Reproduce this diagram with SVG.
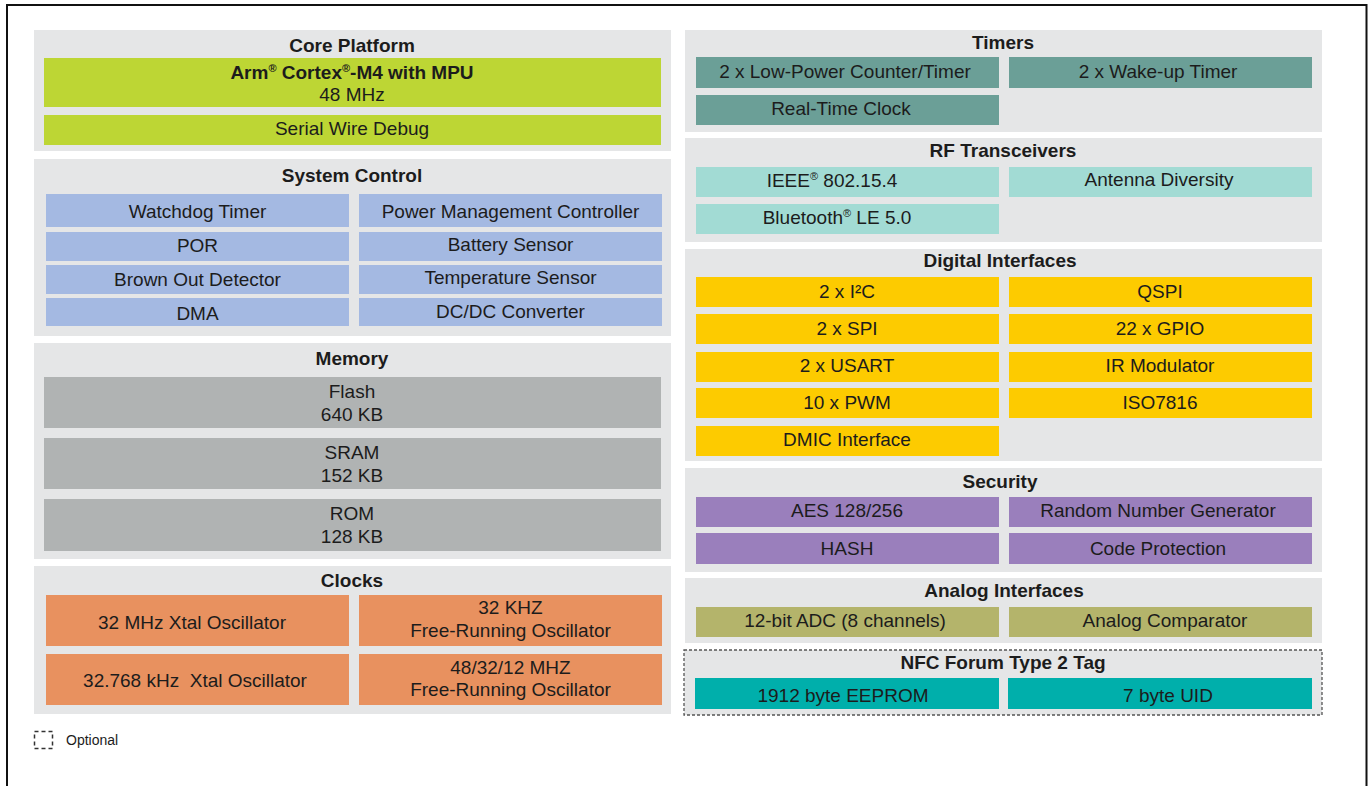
<svg xmlns="http://www.w3.org/2000/svg" width="1368" height="786" viewBox="0 0 1368 786">
<style>
text{font-family:"Liberation Sans",Arial,sans-serif;fill:#1c1c1c;text-anchor:middle;font-size:19px}
.t{font-weight:bold}
.p{fill:#e5e6e7}
.lime{fill:#bdd634}
.blue{fill:#a4b9e2}
.gray{fill:#b0b3b3}
.org{fill:#e8915f}
.tmr{fill:#6b9f97}
.rf{fill:#a2dbd4}
.yel{fill:#fdcb00}
.pur{fill:#9a7fbc}
.olv{fill:#b4b46b}
.nfc{fill:#00afab}
.sup{font-size:11px}
</style>
<rect x="0" y="0" width="1368" height="786" fill="#ffffff"/>
<path d="M7,786 V5 H1366.5 V786" fill="none" stroke="#111" stroke-width="2"/>

<g id="core-platform">
<rect class="p" x="34" y="30" width="637" height="121"/>
<text class="t" x="352" y="51.5">Core Platform</text>
<rect class="lime" x="44" y="58" width="617" height="49"/>
<text class="t" x="352" y="79">Arm<tspan class="sup" dy="-7">®</tspan><tspan dy="7"> Cortex</tspan><tspan class="sup" dy="-7">®</tspan><tspan dy="7">-M4 with MPU</tspan></text>
<text x="352" y="100.5">48 MHz</text>
<rect class="lime" x="44" y="115" width="617" height="30"/>
<text x="352" y="134.5">Serial Wire Debug</text>
</g>

<g id="system-control">
<rect class="p" x="34" y="159" width="637" height="177"/>
<text class="t" x="352" y="182">System Control</text>
<rect class="blue" x="46" y="194" width="303" height="33"/>
<rect class="blue" x="359" y="194" width="303" height="33"/>
<rect class="blue" x="46" y="232" width="303" height="29"/>
<rect class="blue" x="359" y="232" width="303" height="29"/>
<rect class="blue" x="46" y="265" width="303" height="29"/>
<rect class="blue" x="359" y="265" width="303" height="29"/>
<rect class="blue" x="46" y="298" width="303" height="28"/>
<rect class="blue" x="359" y="298" width="303" height="28"/>
<text x="197.5" y="218">Watchdog Timer</text>
<text x="510.5" y="218">Power Management Controller</text>
<text x="197.5" y="251.5">POR</text>
<text x="510.5" y="251">Battery Sensor</text>
<text x="197.5" y="286">Brown Out Detector</text>
<text x="510.5" y="284">Temperature Sensor</text>
<text x="197.5" y="320">DMA</text>
<text x="510.5" y="317.5">DC/DC Converter</text>
</g>

<g id="memory">
<rect class="p" x="34" y="343" width="637" height="216"/>
<text class="t" x="352" y="365">Memory</text>
<rect class="gray" x="44" y="377" width="617" height="51"/>
<rect class="gray" x="44" y="438" width="617" height="51"/>
<rect class="gray" x="44" y="499" width="617" height="52"/>
<text x="352" y="397.5">Flash</text>
<text x="352" y="420.5">640 KB</text>
<text x="352" y="459">SRAM</text>
<text x="352" y="481.5">152 KB</text>
<text x="352" y="520">ROM</text>
<text x="352" y="542.5">128 KB</text>
</g>

<g id="clocks">
<rect class="p" x="34" y="566" width="637" height="148"/>
<text class="t" x="352" y="586.5">Clocks</text>
<rect class="org" x="46" y="595" width="303" height="51"/>
<rect class="org" x="359" y="595" width="303" height="51"/>
<rect class="org" x="46" y="654" width="303" height="51"/>
<rect class="org" x="359" y="654" width="303" height="51"/>
<text x="192" y="629">32 MHz Xtal Oscillator</text>
<text x="510.5" y="614">32 KHZ</text>
<text x="510.5" y="636.5">Free-Running Oscillator</text>
<text x="195" y="686.5" xml:space="preserve">32.768 kHz  Xtal Oscillator</text>
<text x="510.5" y="673.5">48/32/12 MHZ</text>
<text x="510.5" y="696">Free-Running Oscillator</text>
</g>

<g id="timers">
<rect class="p" x="685" y="30" width="637" height="102"/>
<text class="t" x="1003" y="48.5">Timers</text>
<rect class="tmr" x="696" y="57" width="303" height="31"/>
<rect class="tmr" x="1009" y="57" width="303" height="31"/>
<rect class="tmr" x="696" y="95" width="303" height="30"/>
<text x="845" y="77.5">2 x Low-Power Counter/Timer</text>
<text x="1158" y="77.5">2 x Wake-up Timer</text>
<text x="841" y="115">Real-Time Clock</text>
</g>

<g id="rf-transceivers">
<rect class="p" x="685" y="138" width="637" height="104"/>
<text class="t" x="1003" y="156.5">RF Transceivers</text>
<rect class="rf" x="696" y="167" width="303" height="30"/>
<rect class="rf" x="1009" y="167" width="303" height="30"/>
<rect class="rf" x="696" y="204" width="303" height="30"/>
<text x="832" y="187">IEEE<tspan class="sup" dy="-7">®</tspan><tspan dy="7"> 802.15.4</tspan></text>
<text x="1159" y="185.5">Antenna Diversity</text>
<text x="837" y="224">Bluetooth<tspan class="sup" dy="-7">®</tspan><tspan dy="7"> LE 5.0</tspan></text>
</g>

<g id="digital-interfaces">
<rect class="p" x="685" y="249" width="637" height="212"/>
<text class="t" x="1000" y="267">Digital Interfaces</text>
<rect class="yel" x="696" y="277" width="303" height="30"/>
<rect class="yel" x="1009" y="277" width="303" height="30"/>
<rect class="yel" x="696" y="314" width="303" height="30"/>
<rect class="yel" x="1009" y="314" width="303" height="30"/>
<rect class="yel" x="696" y="352" width="303" height="30"/>
<rect class="yel" x="1009" y="352" width="303" height="30"/>
<rect class="yel" x="696" y="388" width="303" height="30"/>
<rect class="yel" x="1009" y="388" width="303" height="30"/>
<rect class="yel" x="696" y="426" width="303" height="30"/>
<text x="847" y="297.5">2 x I²C</text>
<text x="1160" y="297.5">QSPI</text>
<text x="847" y="335">2 x SPI</text>
<text x="1160" y="335">22 x GPIO</text>
<text x="847" y="372">2 x USART</text>
<text x="1160" y="372">IR Modulator</text>
<text x="847" y="408.5">10 x PWM</text>
<text x="1160" y="408.5">ISO7816</text>
<text x="847" y="445.5">DMIC Interface</text>
</g>

<g id="security">
<rect class="p" x="685" y="468" width="637" height="104"/>
<text class="t" x="1000" y="487.5">Security</text>
<rect class="pur" x="696" y="497" width="303" height="30"/>
<rect class="pur" x="1009" y="497" width="303" height="30"/>
<rect class="pur" x="696" y="533" width="303" height="31"/>
<rect class="pur" x="1009" y="533" width="303" height="31"/>
<text x="847" y="517">AES 128/256</text>
<text x="1158" y="517">Random Number Generator</text>
<text x="847" y="554.5">HASH</text>
<text x="1158" y="554.5">Code Protection</text>
</g>

<g id="analog-interfaces">
<rect class="p" x="685" y="578" width="637" height="65"/>
<text class="t" x="1004" y="596.5">Analog Interfaces</text>
<rect class="olv" x="696" y="607" width="303" height="30"/>
<rect class="olv" x="1009" y="607" width="303" height="30"/>
<text x="845" y="627">12-bit ADC (8 channels)</text>
<text x="1165" y="627">Analog Comparator</text>
</g>

<g id="nfc-tag">
<rect class="p" x="684" y="650" width="638" height="65" stroke="#555" stroke-width="1.3" stroke-dasharray="3,2"/>
<text class="t" x="1003" y="668.5">NFC Forum Type 2 Tag</text>
<rect class="nfc" x="695" y="678" width="304" height="31"/>
<rect class="nfc" x="1008" y="678" width="304" height="31"/>
<text x="843" y="702">1912 byte EEPROM</text>
<text x="1168" y="702">7 byte UID</text>
</g>

<g id="legend">
<rect x="34.5" y="731.5" width="18" height="17" fill="none" stroke="#333" stroke-width="1.5" stroke-dasharray="4,3"/>
<text x="66" y="745" style="text-anchor:start;font-size:14px">Optional</text>
</g>

<g id="connectors"></g>
</svg>
